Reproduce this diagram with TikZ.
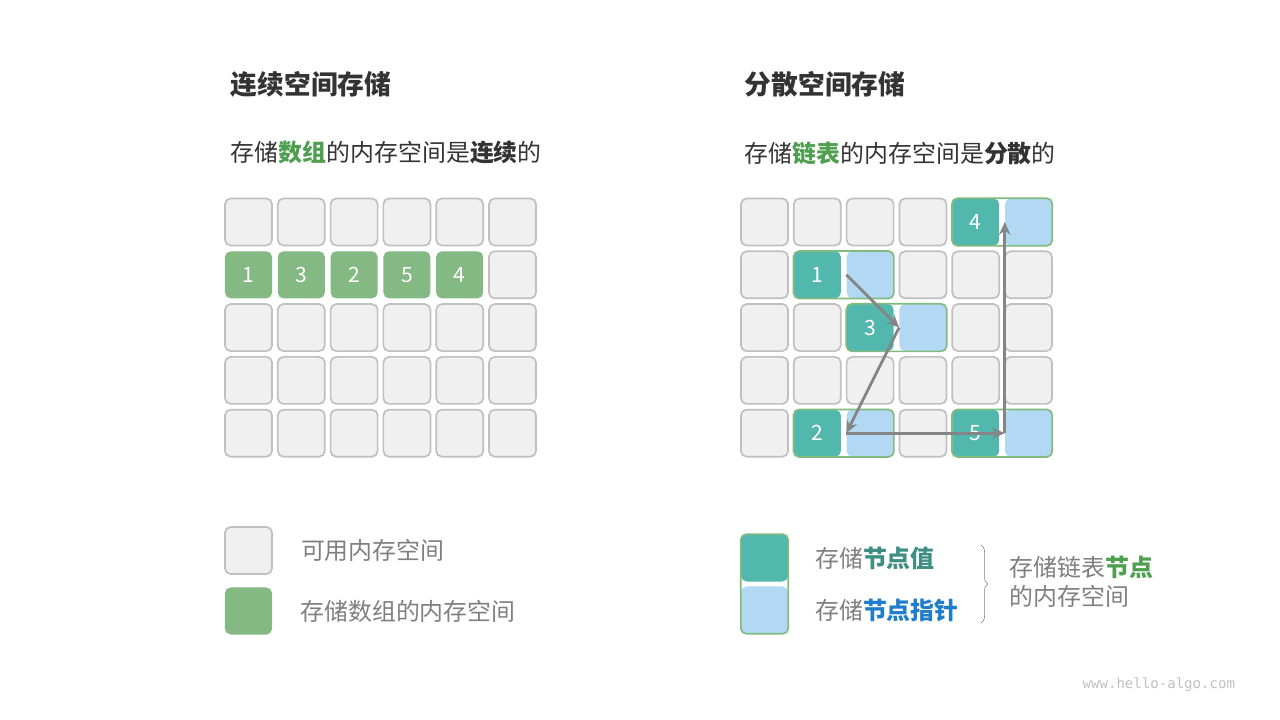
\documentclass[tikz,border=0pt]{standalone}
\usepackage{fontspec}
\setmainfont{Noto Sans CJK SC}
\newfontfamily\webfont{DejaVu Sans Mono}
\usepackage{tikz}
\usetikzlibrary{positioning,arrows.meta,decorations.pathreplacing}

\definecolor{cellgray}{HTML}{F0F0F0}
\definecolor{cellline}{HTML}{C0C0C0}
\definecolor{arraygreen}{HTML}{84B983}
\definecolor{valteal}{HTML}{52B8AE}
\definecolor{ptrblue}{HTML}{B3D8F4}
\definecolor{nodeline}{HTML}{82BB7F}
\definecolor{txtdark}{HTML}{333333}
\definecolor{txtgray}{HTML}{7F7F7F}
\definecolor{hlgreen}{HTML}{4F9F50}
\definecolor{hlteal}{HTML}{3E8E84}
\definecolor{hlblue}{HTML}{1F7DCC}
\definecolor{arrowgray}{HTML}{858585}

\begin{document}
\begin{tikzpicture}[
    x=0.025cm, y=-0.025cm,
    cellnode/.style={rectangle, rounded corners=4pt, minimum size=1.175cm, inner sep=0pt,
        text=white, font=\fontsize{15}{15}\selectfont},
    freecell/.style={cellnode, draw=cellline, fill=cellgray, line width=1.2pt},
    arraycell/.style={cellnode, fill=arraygreen},
    valcell/.style={cellnode, fill=valteal},
    ptrcell/.style={cellnode, fill=ptrblue},
    nodebox/.style={draw=nodeline, line width=1.2pt, rounded corners=4pt},
    link/.style={-{Stealth[length=9pt,width=8pt]}, draw=arrowgray, line width=2pt},
    label/.style={anchor=west, text=txtdark, font=\fontsize{17}{20.6}\selectfont},
    legend/.style={label, text=txtgray}
    ]
        \useasboundingbox[fill=white] (0,0) rectangle (1280,720);

        %Titles
        \node[label, font=\fontsize{19}{19}\selectfont\bfseries]
            (title-arr)     at (226,84)     {连续空间存储};
        \node[label, font=\fontsize{19}{19}\selectfont\bfseries]
            (title-list)    at (740,84)     {分散空间存储};
        \node[label]
            (sub-arr)       at (226,153)    {存储\textbf{\color{hlgreen}数组}的内存空间是\textbf{连续}的};
        \node[label]
            (sub-list)      at (740,153)    {存储\textbf{\color{hlgreen}链表}的内存空间是\textbf{分散}的};

        %Array grid
        \foreach \r in {0,2,3,4}
            \foreach \c in {0,...,5}
                \node[freecell] (a-\r-\c) at ({248.5+52.8*\c},{222+52.8*\r}) {};
        \node[freecell] (a-1-5) at ({248.5+52.8*5},274.8) {};
        \foreach \v [count=\c from 0] in {1,3,2,5,4}
            \node[arraycell] (arr-\c) at ({248.5+52.8*\c},274.8) {\v};

        %List grid
        \foreach \r/\c in {0/0,0/1,0/2,0/3, 1/0,1/3,1/4,1/5, 2/0,2/1,2/4,2/5,
                           3/0,3/1,3/2,3/3,3/4,3/5, 4/0,4/3}
            \node[freecell] (b-\r-\c) at ({764.5+52.8*\c},{222+52.8*\r}) {};
        \foreach \v/\r/\c in {4/0/4, 1/1/1, 3/2/2, 2/4/1, 5/4/4}{
            \node[valcell] (v-\v) at ({764.5+52.8*\c},{222+52.8*\r}) {\v};
            \node[ptrcell] (p-\v) at ({764.5+52.8*(\c+1)},{222+52.8*\r}) {};
            \draw[nodebox] (v-\v.north west) rectangle (p-\v.south east);
        }

        %Lines
        \draw[link] (p-1.west) -- (p-3.west);
        \draw[link] (p-3.west) -- (p-2.west);
        \draw[link] (p-2.west) -- (p-5.west);
        \draw[link] (p-5.west) -- (p-4.west);

        %Legend of array
        \node[freecell]
            (lg-free)   at (248.5,550.5)    {};
        \node[arraycell]
            (lg-arr)    at (248.5,611)      {};
        \node[legend]
            (lt-free)   [right=0.58cm of lg-free]   {可用内存空间};
        \node[legend]
            (lt-arr)    [right=0.58cm of lg-arr]    {存储数组的内存空间};

        %Legend of list
        \node[valcell]
            (lg-val)    at (764.5,558)      {};
        \node[ptrcell]
            (lg-ptr)    at (764.5,610)      {};
        \draw[nodebox] (lg-val.north west) rectangle (lg-ptr.south east);
        \node[legend]
            (lt-val)    [right=0.55cm of lg-val]    {存储\textbf{\color{hlteal}节点值}};
        \node[legend]
            (lt-ptr)    [right=0.55cm of lg-ptr]    {存储\textbf{\color{hlblue}节点指针}};
        \coordinate (br-top) at (981,545);
        \coordinate (br-bot) at (981,623);
        \draw[draw=txtgray, thin, decorate, decoration={brace, amplitude=5pt}]
            (br-top) -- (br-bot);
        \node[legend, align=left]
            (lt-node)   at (1005,582)   {存储链表\textbf{\color{hlgreen}节点}\\的内存空间};

        \node[anchor=east, text=cellline, font=\webfont\fontsize{10}{10}\selectfont]
            (site)      at (1240,685)   {www.hello-algo.com};
    \end{tikzpicture}
\end{document}
